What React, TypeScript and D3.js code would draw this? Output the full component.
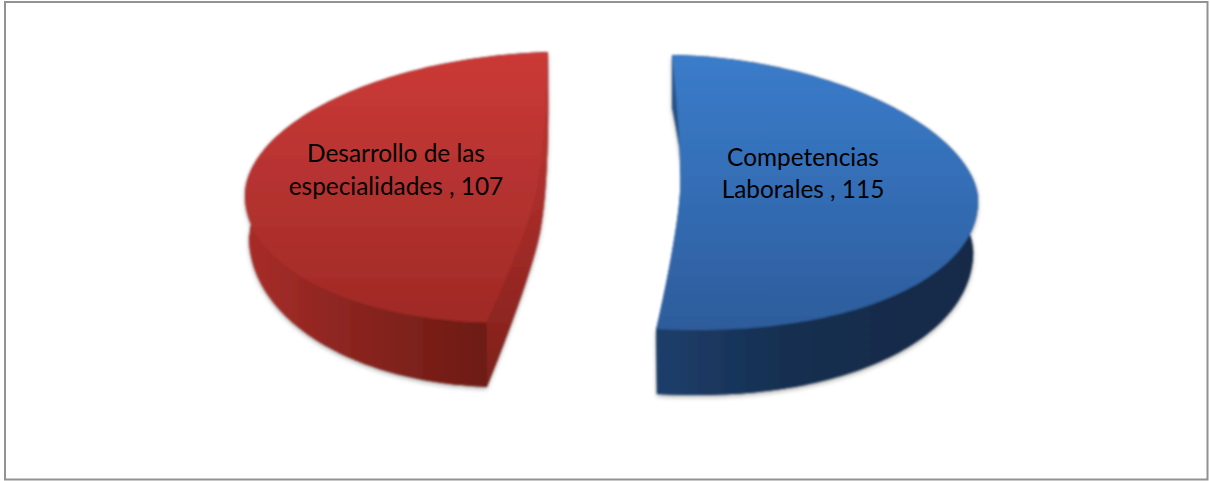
import React from "react";
import * as d3 from "d3";

const categories = ["Competencias Laborales", "Desarrollo de las especialidades"];
const values = [115, 107];
const labelLines = [
  ["Competencias", "Laborales , 115"],
  ["Desarrollo de las", "especialidades , 107"],
];

const W = 1210;
const H = 481;
const deg = Math.PI / 180;

// Layout of each exploded, tilted slice (one entry per category). The rim is
// built from a back half and a front half, as the perspective differs between them.
const layouts = [
  {
    back: { cx: 670, rx: 308, pow: 1.1 },
    front: { cx: 695, rx: 283, pow: 0.95 },
    cy: 200, ryBack: 145, ryFront: 130,
    cyLow: 250, ryBackLow: 143, ryFrontLow: 145, rxScale: 0.983,
    shift: 0.25 * deg,
    apex: [680, 192], apexLow: [685, 205],
    label: [803, 166, 198],
  },
  {
    back: { cx: 561, rx: 316, pow: 1.05 },
    front: { cx: 505, rx: 260, pow: 0.97 },
    cy: 195, ryBack: 143, ryFront: 128,
    cyLow: 235, ryBackLow: 130, ryFrontLow: 152, rxScale: 0.985,
    shift: -3.1 * deg,
    apex: [537, 192], apexLow: [540, 232],
    label: [396, 162, 195],
  },
];

const START = 0.35 * deg;
const pieAngles = d3.pie<number>().sort(null).value((d) => d).startAngle(START).endAngle(START + 2 * Math.PI)(values);
const rimLine = d3.line<[number, number]>();
const edgeLine = d3.line<[number, number]>().curve(d3.curveCatmullRom.alpha(0.5));

type Pt = [number, number];
type Layout = (typeof layouts)[number];

const bend = (v: number, p: number) => Math.sign(v) * Math.pow(Math.abs(v), p);

function rim(a0: number, a1: number, l: Layout, lower: boolean): Pt[] {
  const angle = d3.scaleLinear().domain([0, 160]).range([a0, a1]);
  const scale = lower ? l.rxScale : 1;
  const cy = lower ? l.cyLow : l.cy;
  const ryB = lower ? l.ryBackLow : l.ryBack;
  const ryF = lower ? l.ryFrontLow : l.ryFront;
  return d3.range(161).map((i) => {
    const a = angle(i);
    const isBack = Math.cos(a) > 0;
    const half = isBack ? l.back : l.front;
    const x = half.cx + half.rx * scale * bend(Math.sin(a), half.pow);
    const y = cy - (isBack ? ryB : ryF) * bend(Math.cos(a), half.pow);
    return [x, y] as Pt;
  });
}

const slices = pieAngles.map((p, i) => {
  const l = layouts[i];
  const a0 = p.startAngle + l.shift;
  const a1 = p.endAngle + l.shift;
  const top = rim(a0, a1, l, false);
  const low = rim(a0, a1, l, true);
  const topEdge = edgeLine([top[top.length - 1], l.apex as Pt, top[0]]) as string;
  const lowEdge = edgeLine([low[low.length - 1], l.apexLow as Pt, low[0]]) as string;
  const lowEdgeRev = edgeLine([low[0], l.apexLow as Pt, low[low.length - 1]]) as string;
  return {
    face: rimLine(top) + "L" + topEdge.slice(1) + "Z",
    band: rimLine(top) + "L" + rimLine([...low].reverse())!.slice(1) + "Z",
    lower: rimLine(low) + "L" + lowEdge.slice(1) + "Z",
    wall: topEdge + "L" + lowEdgeRev.slice(1) + "Z",
    i,
  };
});

const faceFill = ["url(#blueFace)", "url(#redFace)"];
const sideFill = ["url(#blueSide)", "url(#redSide)"];
const wallFill = ["url(#blueWall)", "url(#redWall)"];

export default function App() {
  return (
    <svg
      width={W}
      height={H}
      viewBox={`0 0 ${W} ${H}`}
      style={{ position: "absolute", left: 0, top: 0, background: "#fff" }}
      role="img"
      aria-label={categories.join(", ")}
    >
      <defs>
        <linearGradient id="blueFace" gradientUnits="userSpaceOnUse" x1="0" y1="55" x2="0" y2="330">
          <stop offset="0" stopColor="#3b7cca" />
          <stop offset="0.5" stopColor="#346db5" />
          <stop offset="1" stopColor="#2d5c9b" />
        </linearGradient>
        <linearGradient id="redFace" gradientUnits="userSpaceOnUse" x1="0" y1="52" x2="0" y2="325">
          <stop offset="0" stopColor="#cb3a37" />
          <stop offset="0.5" stopColor="#b53230" />
          <stop offset="1" stopColor="#9f2a25" />
        </linearGradient>
        <linearGradient id="blueSide" gradientUnits="userSpaceOnUse" x1="655" y1="0" x2="975" y2="0">
          <stop offset="0" stopColor="#1d3f6c" />
          <stop offset="0.4" stopColor="#172f50" />
          <stop offset="1" stopColor="#142a47" />
        </linearGradient>
        <linearGradient id="redSide" gradientUnits="userSpaceOnUse" x1="245" y1="0" x2="492" y2="0">
          <stop offset="0" stopColor="#a92d29" />
          <stop offset="0.35" stopColor="#8f2621" />
          <stop offset="0.7" stopColor="#7c201a" />
          <stop offset="1" stopColor="#6c1a15" />
        </linearGradient>
        <linearGradient id="blueWall" gradientUnits="userSpaceOnUse" x1="0" y1="55" x2="0" y2="200">
          <stop offset="0" stopColor="#2c5c98" />
          <stop offset="1" stopColor="#1c3d68" />
        </linearGradient>
        <linearGradient id="redWall" gradientUnits="userSpaceOnUse" x1="0" y1="52" x2="0" y2="387">
          <stop offset="0" stopColor="#c93835" />
          <stop offset="0.5" stopColor="#a52c28" />
          <stop offset="0.8" stopColor="#8e2520" />
          <stop offset="1" stopColor="#7c1f1a" />
        </linearGradient>
        <filter id="soft" x="-5%" y="-5%" width="110%" height="115%">
          <feGaussianBlur stdDeviation="0.8" />
        </filter>
        <filter id="shadow" x="-5%" y="-5%" width="110%" height="115%">
          <feGaussianBlur stdDeviation="2.5" />
        </filter>
      </defs>

      <rect x={5} y={2} width={1202.5} height={477.5} fill="#fff" stroke="#929292" strokeWidth={2} />

      {slices.map((s) => (
        <g key={categories[s.i]}>
          <g filter="url(#shadow)" opacity={0.4} transform="translate(0,2)">
            <path d={s.band} fill="#333" />
            <path d={s.lower} fill="#333" />
          </g>
          <g filter="url(#soft)">
            <path d={s.lower} fill={sideFill[s.i]} />
            <path d={s.band} fill={sideFill[s.i]} />
            <path d={s.wall} fill={wallFill[s.i]} />
            <path d={s.face} fill={faceFill[s.i]} />
          </g>
        </g>
      ))}

      {labelLines.map((lines, i) => (
        <text
          key={categories[i]}
          textAnchor="middle"
          fontFamily="Lato, 'Open Sans', sans-serif"
          fontSize={24.4}
          fill="#000"
        >
          {lines.map((t, j) => (
            <tspan key={t} x={layouts[i].label[0]} y={layouts[i].label[j + 1]}>
              {t}
            </tspan>
          ))}
        </text>
      ))}
    </svg>
  );
}
